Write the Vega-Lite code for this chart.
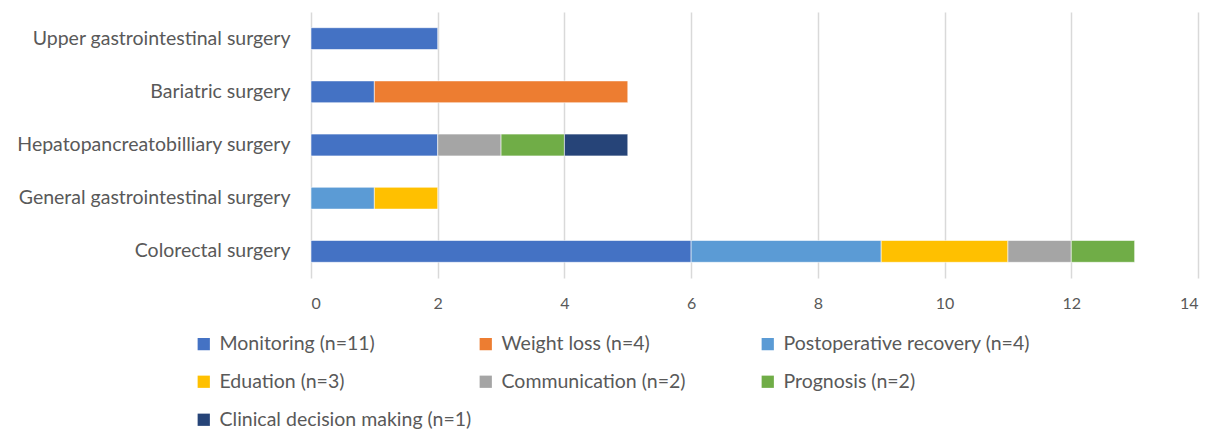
{
  "$schema": "https://vega.github.io/schema/vega-lite/v6.json",
  "width": 887,
  "height": 266,
  "autosize": {"type": "none"},
  "padding": {"left": 311, "top": 12, "right": 12, "bottom": 151},
  "background": "white",
  "config": {
    "view": {"stroke": null},
    "font": "Lato",
    "axis": {"labelFont": "Lato", "labelColor": "#595959"},
    "legend": {"labelFont": "Lato", "labelColor": "#595959"}
  },
  "data": {
    "values": [
      {"surgery": "Upper gastrointestinal surgery", "theme": "Monitoring (n=11)", "count": 2},
      {"surgery": "Bariatric surgery", "theme": "Monitoring (n=11)", "count": 1},
      {"surgery": "Bariatric surgery", "theme": "Weight loss (n=4)", "count": 4},
      {"surgery": "Hepatopancreatobilliary surgery", "theme": "Monitoring (n=11)", "count": 2},
      {"surgery": "Hepatopancreatobilliary surgery", "theme": "Communication (n=2)", "count": 1},
      {"surgery": "Hepatopancreatobilliary surgery", "theme": "Prognosis (n=2)", "count": 1},
      {"surgery": "Hepatopancreatobilliary surgery", "theme": "Clinical decision making (n=1)", "count": 1},
      {"surgery": "General gastrointestinal surgery", "theme": "Postoperative recovery (n=4)", "count": 1},
      {"surgery": "General gastrointestinal surgery", "theme": "Eduation (n=3)", "count": 1},
      {"surgery": "Colorectal surgery", "theme": "Monitoring (n=11)", "count": 6},
      {"surgery": "Colorectal surgery", "theme": "Postoperative recovery (n=4)", "count": 3},
      {"surgery": "Colorectal surgery", "theme": "Eduation (n=3)", "count": 2},
      {"surgery": "Colorectal surgery", "theme": "Communication (n=2)", "count": 1},
      {"surgery": "Colorectal surgery", "theme": "Prognosis (n=2)", "count": 1}
    ]
  },
  "mark": {"type": "bar", "stroke": "white", "strokeWidth": 0.8, "strokeOpacity": 0.7},
  "encoding": {
    "y": {
      "field": "surgery",
      "type": "nominal",
      "sort": ["Upper gastrointestinal surgery", "Bariatric surgery", "Hepatopancreatobilliary surgery", "General gastrointestinal surgery", "Colorectal surgery"],
      "scale": {"paddingInner": 0.59, "paddingOuter": 0.295},
      "axis": {
        "title": null,
        "domain": false,
        "ticks": false,
        "labelFontSize": 19.5,
        "labelPadding": 21,
        "labelLimit": 400
      }
    },
    "x": {
      "field": "count",
      "type": "quantitative",
      "aggregate": "sum",
      "stack": "zero",
      "scale": {"domain": [0, 14], "nice": false},
      "axis": {
        "title": null,
        "values": [0, 2, 4, 6, 8, 10, 12, 14],
        "domain": false,
        "ticks": false,
        "grid": true,
        "gridColor": "#D9D9D9",
        "gridWidth": 1.5,
        "labelFontSize": 16,
        "labelPadding": 17
      }
    },
    "color": {
      "field": "theme",
      "type": "nominal",
      "sort": ["Monitoring (n=11)", "Weight loss (n=4)", "Postoperative recovery (n=4)", "Eduation (n=3)", "Communication (n=2)", "Prognosis (n=2)", "Clinical decision making (n=1)"],
      "scale": {
        "domain": ["Monitoring (n=11)", "Weight loss (n=4)", "Postoperative recovery (n=4)", "Eduation (n=3)", "Communication (n=2)", "Prognosis (n=2)", "Clinical decision making (n=1)"],
        "range": ["#4472C4", "#ED7D31", "#5B9BD5", "#FFC000", "#A5A5A5", "#70AD47", "#264478"]
      },
      "legend": {
        "title": null,
        "orient": "none",
        "legendX": -117,
        "legendY": 322,
        "direction": "horizontal",
        "columns": 3,
        "gridAlign": "all",
        "columnPadding": 4,
        "rowPadding": 17,
        "symbolType": "square",
        "symbolSize": 150,
        "symbolStrokeWidth": 0,
        "labelFontSize": 19.5,
        "labelOffset": 6,
        "labelLimit": 400
      }
    },
    "order": {"field": "stack_rank", "type": "quantitative"}
  }
}
